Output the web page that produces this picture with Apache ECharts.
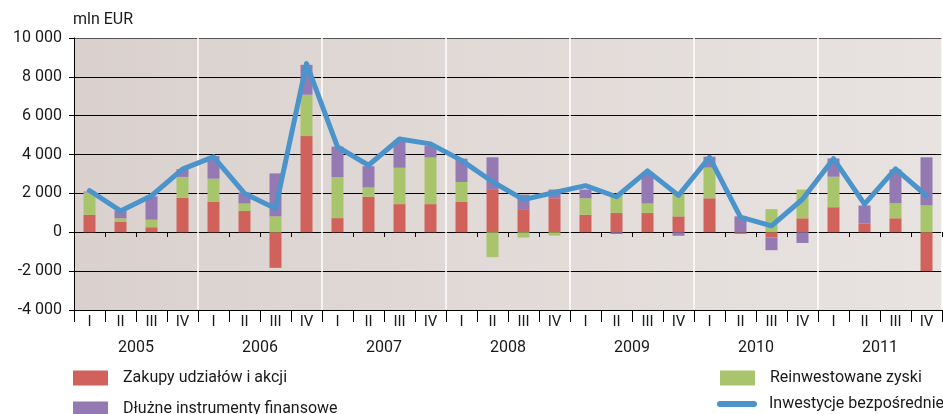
<!DOCTYPE html>
<html>
<head>
<meta charset="utf-8">
<script src="https://cdn.jsdelivr.net/npm/echarts@6/dist/echarts.min.js"></script>
<style>html,body{margin:0;padding:0;background:#fff}#c{width:943px;height:414px}</style>
</head>
<body>
<div id="c"></div>
<script>
const quarters = ['I', 'II', 'III', 'IV'];
const years = ['2005', '2006', '2007', '2008', '2009', '2010', '2011'];
const unitLabel = 'mln EUR';
const seriesNames = ['Zakupy udziałów i akcji', 'Reinwestowane zyski', 'Dłużne instrumenty finansowe', 'Inwestycje bezpośrednie'];

// mln EUR, quarterly 2005 I – 2011 IV
const zakupy = [900, 530, 260, 1770, 1560, 1100, -1830, 4950, 730, 1830, 1450, 1450, 1560, 2220, 1190, 1750, 900, 990, 990, 820, 1750, -80, -270, 720, 1290, 450, 720, -2000];
const reinwestowane = [1150, 190, 390, 1080, 1200, 380, 820, 2130, 2110, 480, 1870, 2400, 1030, -1280, -270, -170, 850, 910, 490, 1180, 1580, 0, 1190, 1480, 1570, 0, 770, 1380];
const dluzne = [50, 400, 1200, 400, 1160, 570, 2210, 1540, 1570, 1090, 1400, 610, 1200, 1640, 750, 450, 450, -90, 1520, -180, 560, 820, -650, -550, 940, 930, 1740, 2480];
const inwestycje = [2150, 1100, 1880, 3250, 3880, 2000, 1220, 8680, 4400, 3450, 4800, 4550, 3700, 2600, 1680, 2050, 2400, 1830, 3160, 1900, 3860, 780, 330, 1700, 3790, 1450, 3260, 1880];

const categories = [];
years.forEach(() => quarters.forEach(q => categories.push(q)));

const FONT = 'Roboto, "Liberation Sans", sans-serif';
const TXT = '#1a1a1a';
const C_RED = '#d0625b', C_GREEN = '#a9c56b', C_PURPLE = '#9579b3', C_BLUE = '#4a94cb';

const chart = echarts.init(document.getElementById('c'), null, {renderer: 'canvas'});
const legendBase = {orient: 'horizontal', padding: 0, itemGap: 0, textStyle: {fontFamily: FONT, fontSize: 16, color: TXT, padding: [0, 0, 0, 10]}, selectedMode: false};
chart.setOption({
  animation: false,
  textStyle: {fontFamily: FONT},
  grid: {
    left: 74, right: 1, top: 38, bottom: 104, show: true, borderWidth: 0,
    backgroundColor: new echarts.graphic.LinearGradient(0, 0, 1, 0, [
      {offset: 0, color: '#dad1ce'}, {offset: 1, color: '#e8e3e1'}
    ])
  },
  legend: [
    Object.assign({}, legendBase, {left: 73, top: 370, itemWidth: 35, itemHeight: 15, data: [{name: seriesNames[0], icon: 'rect'}]}),
    Object.assign({}, legendBase, {left: 73, top: 401, itemWidth: 35, itemHeight: 15, data: [{name: seriesNames[2], icon: 'rect'}]}),
    Object.assign({}, legendBase, {left: 720, top: 370, itemWidth: 35, itemHeight: 15, data: [{name: seriesNames[1], icon: 'rect'}]}),
    Object.assign({}, legendBase, {left: 717, top: 396, itemWidth: 40, itemHeight: 6, textStyle: Object.assign({}, legendBase.textStyle, {padding: [0, 0, 0, 7]}), data: [{name: seriesNames[3], icon: 'path://M3,0 L37,0 A3,3 0 0 1 37,6 L3,6 A3,3 0 0 1 3,0 Z'}]})
  ],
  xAxis: [
    {
      type: 'category', data: categories, position: 'bottom',
      axisLine: {onZero: false, lineStyle: {color: '#000', width: 1}},
      axisTick: {show: true, length: 12, lineStyle: {color: '#000'}},
      axisLabel: {margin: 5, fontFamily: FONT, fontSize: 15, color: TXT, interval: 0},
      splitLine: {show: true, interval: (i) => i > 0 && i < 28 && i % 4 === 0, lineStyle: {color: '#ffffff', width: 1.5}}
    },
    {
      type: 'category', data: categories, position: 'top', offset: -194,
      axisLine: {show: false, onZero: false},
      axisTick: {show: true, inside: true, length: 5, interval: (i) => i % 4 !== 0, lineStyle: {color: '#000'}},
      axisLabel: {show: false}, splitLine: {show: false}
    },
    {
      type: 'category', data: years, position: 'bottom',
      axisLine: {show: false, onZero: false}, axisTick: {show: false},
      axisLabel: {margin: 30, fontFamily: FONT, fontSize: 16, color: TXT},
      splitLine: {show: false}
    }
  ],
  yAxis: {
    type: 'value', min: -4000, max: 10000, interval: 2000,
    name: unitLabel, nameLocation: 'end', nameGap: 10,
    nameTextStyle: {align: 'left', fontFamily: FONT, fontSize: 16, color: TXT, padding: [0, 0, 0, -1]},
    axisLine: {show: true, lineStyle: {color: '#000', width: 1}},
    axisTick: {show: true, length: 5, lineStyle: {color: '#000'}},
    axisLabel: {margin: 12, fontFamily: FONT, fontSize: 16, color: TXT,
      formatter: v => { const s = Math.abs(v).toString().replace(/\B(?=(\d{3})+(?!\d))/g, ' '); return (v < 0 ? '-' : '') + s; }},
    splitLine: {show: true, lineStyle: {color: ['#000', '#000', '#000', '#000', '#000', '#000', '#000', '#555'], width: 1.2}}
  },
  series: [
    {name: seriesNames[0], type: 'bar', stack: 'a', data: zakupy, barWidth: 12, itemStyle: {color: C_RED}, xAxisIndex: 0},
    {name: seriesNames[1], type: 'bar', stack: 'a', data: reinwestowane, barWidth: 12, itemStyle: {color: C_GREEN}, xAxisIndex: 0},
    {name: seriesNames[2], type: 'bar', stack: 'a', data: dluzne, barWidth: 12, itemStyle: {color: C_PURPLE}, xAxisIndex: 0},
    {name: seriesNames[3], type: 'line', data: inwestycje, symbol: 'none', xAxisIndex: 0, z: 5,
      lineStyle: {color: C_BLUE, width: 5, join: 'round', cap: 'round'}, itemStyle: {color: C_BLUE}}
  ]
});
</script>
</body>
</html>
